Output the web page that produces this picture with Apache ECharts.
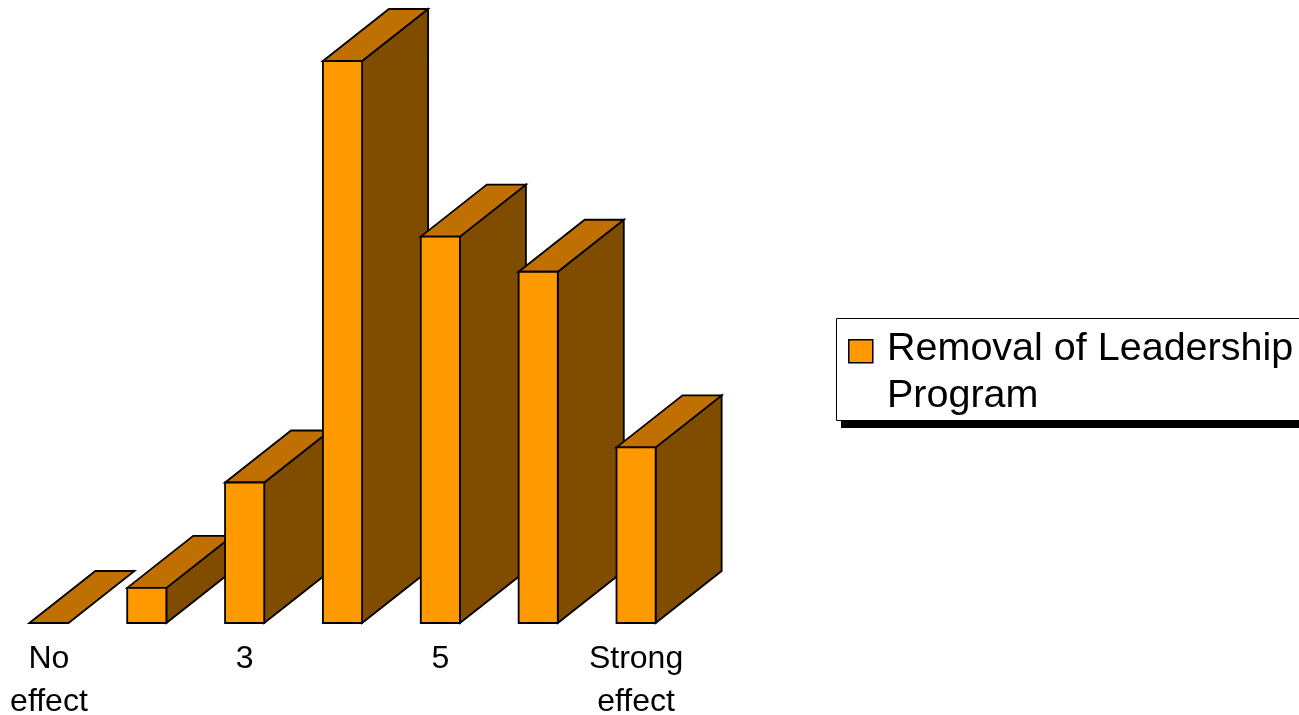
<!DOCTYPE html>
<html>
<head>
<meta charset="utf-8">
<title>Removal of Leadership Program</title>
<script src="https://cdn.jsdelivr.net/npm/echarts@6/dist/echarts.min.js"></script>
<style>
  html, body { margin: 0; padding: 0; background: #fff; }
  #chart { width: 1299px; height: 715px; }
</style>
</head>
<body>
<div id="chart"></div>
<script>
// data
const categories = ['No\neffect', '2', '3', '4', '5', '6', 'Strong\neffect']
const values = [0, 1, 4, 16, 11, 10, 5]

// 3D look
const depth = [66, -52]
const frontColor = '#FF9900'
const topColor = '#C07000'
const sideColor = '#804C00'
const fontFamily = '"Liberation Sans", Arial, sans-serif'

const chart = echarts.init(document.getElementById('chart'))

// front face + top + right side for one bar
const renderBar = (params, api) => {
  const idx = api.value(0)
  const v = api.value(1)
  const top = api.coord([idx, v])
  const base = api.coord([idx, 0])
  const w = api.size([1, 0])[0] * 0.4
  const l = top[0] - w / 2
  const r = top[0] + w / 2
  const yt = top[1]
  const yb = base[1]
  const dx = depth[0]
  const dy = depth[1]
  const stroke = { stroke: '#000', lineWidth: 1.8, lineJoin: 'miter' }
  const children = []
  if (yb - yt > 0) {
    children.push({
      type: 'polygon',
      shape: { points: [[r, yb], [r + dx, yb + dy], [r + dx, yt + dy], [r, yt]] },
      style: Object.assign({ fill: sideColor }, stroke)
    })
  }
  children.push({
    type: 'polygon',
    shape: { points: [[l, yt], [l + dx, yt + dy], [r + dx, yt + dy], [r, yt]] },
    style: Object.assign({ fill: topColor }, stroke)
  })
  if (yb - yt > 0) {
    children.push({
      type: 'rect',
      shape: { x: l, y: yt, width: w, height: yb - yt },
      style: Object.assign({ fill: frontColor }, stroke)
    })
  }
  return { type: 'group', children }
}

chart.setOption({
  backgroundColor: '#fff',
  animation: false,
  grid: { left: 0, top: 61, width: 685, bottom: 92, outerBoundsMode: 'none' },
  xAxis: {
    type: 'category',
    data: categories,
    axisLine: { show: false },
    axisTick: { show: false },
    axisLabel: {
      interval: 1,
      color: '#000',
      fontSize: 32,
      lineHeight: 43,
      fontFamily,
      margin: 15
    }
  },
  yAxis: {
    type: 'value',
    min: 0,
    max: 16,
    show: false
  },
  series: [
    {
      name: 'Removal of Leadership Program',
      type: 'custom',
      renderItem: renderBar,
      clip: false,
      data: values.map((v, i) => [i, v]),
      encode: { x: 0, y: 1 }
    }
  ],
  // legend box
  graphic: [
    {
      type: 'rect',
      left: 841,
      top: 326,
      shape: { width: 480, height: 102 },
      style: { fill: '#000' }
    },
    {
      type: 'rect',
      left: 836,
      top: 318,
      shape: { width: 480, height: 102 },
      style: { fill: '#fff', stroke: '#000', lineWidth: 1 }
    },
    {
      type: 'rect',
      left: 848,
      top: 339,
      shape: { width: 24, height: 23 },
      style: { fill: frontColor, stroke: '#000', lineWidth: 1.5 }
    },
    {
      type: 'text',
      left: 887,
      top: 326,
      style: {
        text: 'Removal of Leadership\nProgram',
        fill: '#000',
        fontSize: 39.5,
        lineHeight: 47,
        fontFamily
      }
    }
  ]
})

window.addEventListener('resize', () => chart.resize())
</script>
</body>
</html>
